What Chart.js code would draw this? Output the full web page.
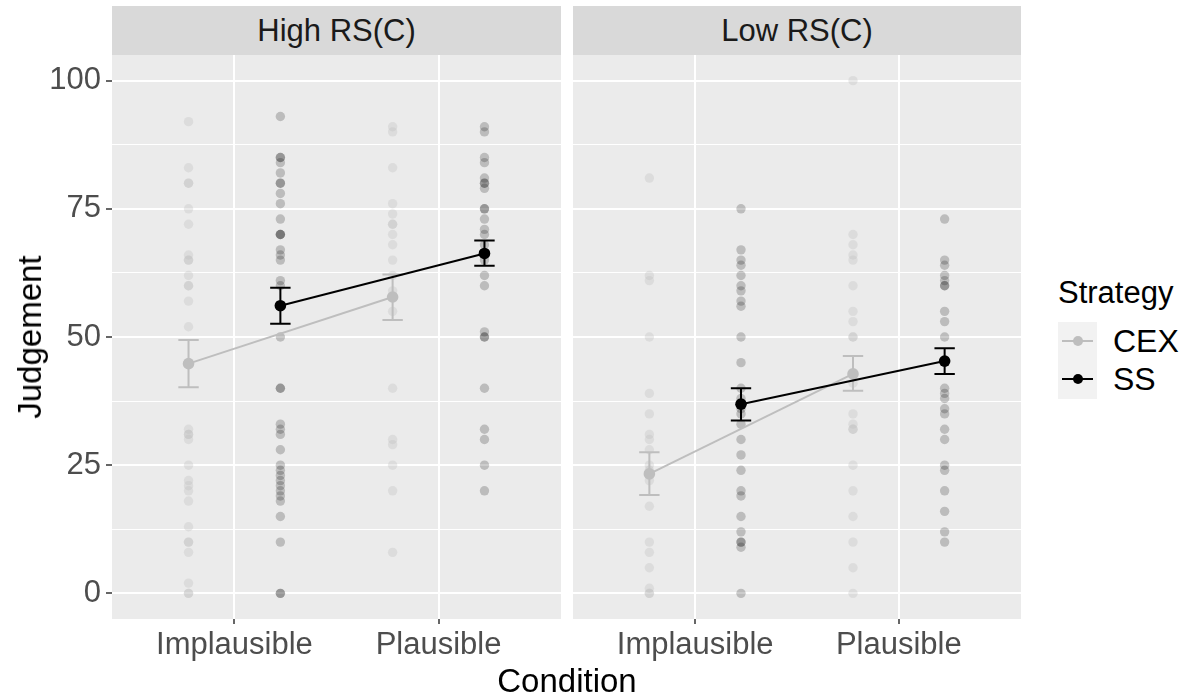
<!DOCTYPE html>
<html><head><meta charset="utf-8">
<script src="https://cdn.jsdelivr.net/npm/chart.js@4.4.0/dist/chart.umd.min.js"></script>
<style>
html,body{margin:0;padding:0;background:#fff;}
body{width:1195px;height:696px;position:relative;overflow:hidden;font-family:"Liberation Sans",Arial,Helvetica,sans-serif;}
canvas{position:absolute;top:0;}
.strip{position:absolute;top:6px;height:49px;background:#D9D9D9;color:#1A1A1A;font-size:31px;display:flex;align-items:center;justify-content:center;}
.title{position:absolute;color:#000;font-size:33px;white-space:nowrap;}
.leg{position:absolute;color:#000;white-space:nowrap;}
</style>
</head><body>
<canvas id="c1" width="570" height="696" style="left:0;width:570px;height:696px"></canvas>
<canvas id="c2" width="470" height="696" style="left:561px;width:470px;height:696px"></canvas>
<div class="strip" id="s1" style="left:112px;width:449px"></div>
<div class="strip" id="s2" style="left:573px;width:448px"></div>
<div class="title" id="xt" style="left:567px;top:662px;transform:translate(-50%,0)"></div>
<div class="title" id="yt" style="left:30px;top:337px;transform:translate(-50%,-50%) rotate(-90deg)"></div>
<div id="legend"></div>
<script>
// ---------- data ----------
const panels = ['High RS(C)', 'Low RS(C)'];
const conditions = ['Implausible', 'Plausible'];
const strategies = ['CEX', 'SS'];
const yTickLabels = [0, 25, 50, 75, 100];
const xTitle = 'Condition';
const yTitle = 'Judgement';
const legendTitle = 'Strategy';

// raw judgements (High RS(C))
const highCEX_Implausible = [92, 83, 80, 80, 75, 72, 66, 65, 65, 62, 60, 60, 57, 52, 32, 31, 31, 30, 25, 22, 21, 20, 18, 13, 10, 10, 8, 2, 0, 0];
const highSS_Implausible  = [93, 85, 85, 84, 82, 80, 80, 78, 76, 73, 70, 70, 70, 67, 66, 65, 61, 60, 50, 40, 40, 33, 32, 31, 28, 25, 24, 23, 22, 21, 20, 19, 18, 15, 10, 0, 0];
const highCEX_Plausible   = [91, 90, 83, 76, 74, 72, 72, 70, 68, 65, 62, 59, 55, 40, 30, 29, 25, 20, 8];
const highSS_Plausible    = [91, 90, 85, 84, 81, 80, 80, 79, 75, 75, 73, 71, 70, 68, 65, 62, 60, 51, 50, 50, 40, 32, 30, 25, 20];
// raw judgements (Low RS(C))
const lowCEX_Implausible  = [81, 62, 61, 50, 39, 35, 31, 30, 28, 25, 24, 22, 17, 10, 8, 5, 1, 0, 0];
const lowSS_Implausible   = [75, 67, 65, 64, 62, 60, 59, 57, 56, 50, 45, 40, 38, 36, 35, 33, 30, 27, 24, 20, 19, 15, 12, 10, 10, 9, 0];
const lowCEX_Plausible    = [100, 70, 68, 66, 65, 60, 55, 53, 50, 50, 41, 35, 33, 32, 32, 25, 20, 15, 10, 5, 0];
const lowSS_Plausible     = [73, 65, 64, 62, 61, 60, 60, 55, 53, 50, 40, 39, 38, 36, 35, 32, 30, 25, 24, 20, 16, 12, 10];

// means and error-bar limits, [Implausible, Plausible]
const highCEX_mean = [44.8, 57.8], highCEX_lo = [40.2, 53.3], highCEX_hi = [49.4, 62.2];
const highSS_mean  = [56.1, 66.3], highSS_lo  = [52.6, 63.9], highSS_hi  = [59.6, 68.8];
const lowCEX_mean  = [23.3, 42.8], lowCEX_lo  = [19.2, 39.5], lowCEX_hi  = [27.5, 46.3];
const lowSS_mean   = [36.9, 45.3], lowSS_lo   = [33.7, 42.8], lowSS_hi   = [40.0, 47.8];

// ---------- styling ----------
const FONT = '"Liberation Sans", Arial, Helvetica, sans-serif';
const DODGE = 0.225, CAP = 0.05;
const COL = { CEX: '#BEBEBE', SS: '#000000' };
const RAW = { CEX: 'rgba(190,190,190,0.32)', SS: 'rgba(0,0,0,0.2)' };
const gridVals = [0, 12.5, 25, 37.5, 50, 62.5, 75, 87.5, 100];

function rawPts(vals, ci, s) {
  const off = s === 'CEX' ? -DODGE : DODGE;
  return vals.map(v => ({ x: ci + 1 + off, y: v }));
}

function panelData(cexI, cexP, ssI, ssP, cM, cL, cH, sM, sL, sH) {
  const off = { CEX: -DODGE, SS: DODGE };
  const sum = (s, m) => m.map((v, i) => ({ x: i + 1 + off[s], y: v }));
  return {
    datasets: [
      { type: 'scatter', data: rawPts(cexI, 0, 'CEX').concat(rawPts(cexP, 1, 'CEX')), backgroundColor: RAW.CEX, borderWidth: 0, pointRadius: 4.7, order: 4 },
      { type: 'scatter', data: rawPts(ssI, 0, 'SS').concat(rawPts(ssP, 1, 'SS')), backgroundColor: RAW.SS, borderWidth: 0, pointRadius: 4.7, order: 3 },
      { type: 'line', data: sum('CEX', cM), errLo: cL, errHi: cH, borderColor: COL.CEX, backgroundColor: COL.CEX, borderWidth: 2, pointRadius: 5.8, pointBorderWidth: 0, order: 2 },
      { type: 'line', data: sum('SS', sM), errLo: sL, errHi: sH, borderColor: COL.SS, backgroundColor: COL.SS, borderWidth: 2, pointRadius: 5.8, pointBorderWidth: 0, order: 1 }
    ]
  };
}

const bgPlugin = {
  id: 'panelBg',
  beforeDraw(chart) {
    const { ctx, chartArea: a } = chart;
    ctx.save(); ctx.fillStyle = '#EBEBEB';
    ctx.fillRect(a.left, a.top, a.right - a.left, a.bottom - a.top);
    ctx.restore();
  }
};
const errPlugin = {
  id: 'errbars',
  beforeDatasetDraw(chart, args) {
    const ds = chart.data.datasets[args.index];
    if (!ds.errLo) return;
    const { ctx } = chart; const x = chart.scales.x, y = chart.scales.y;
    ctx.save(); ctx.strokeStyle = ds.borderColor; ctx.lineWidth = 2;
    ds.data.forEach((p, i) => {
      const px = x.getPixelForValue(p.x), x0 = x.getPixelForValue(p.x - CAP), x1 = x.getPixelForValue(p.x + CAP);
      const yl = y.getPixelForValue(ds.errLo[i]), yh = y.getPixelForValue(ds.errHi[i]);
      ctx.beginPath();
      ctx.moveTo(px, yl); ctx.lineTo(px, yh);
      ctx.moveTo(x0, yl); ctx.lineTo(x1, yl);
      ctx.moveTo(x0, yh); ctx.lineTo(x1, yh);
      ctx.stroke();
    });
    ctx.restore();
  }
};

function makeChart(id, data, showY, padL, padR) {
  return new Chart(document.getElementById(id), {
    data,
    options: {
      responsive: false, animation: false, devicePixelRatio: 1,
      layout: { padding: { top: 55, left: padL, right: padR, bottom: 0 } },
      plugins: { legend: { display: false }, tooltip: { enabled: false } },
      scales: {
        x: {
          type: 'linear', min: 0.4, max: 2.6,
          afterBuildTicks: s => { s.ticks = conditions.map((c, i) => ({ value: i + 1 })); },
          afterFit: s => { s.height = 77; },
          ticks: { callback: v => conditions[Math.round(v) - 1] || '', color: '#4D4D4D', font: { family: FONT, size: 31 }, padding: 3, maxRotation: 0, autoSkip: false },
          grid: { color: '#FFFFFF', lineWidth: 2, tickLength: 5, tickColor: '#333333', tickWidth: 1.5 },
          border: { display: false }
        },
        y: {
          type: 'linear', min: -5, max: 105,
          afterBuildTicks: s => { s.ticks = gridVals.map(v => ({ value: v })); },
          afterFit: s => { s.width = showY ? 112 : 0; },
          ticks: { display: showY, callback: v => yTickLabels.includes(v) ? String(v) : '', color: '#4D4D4D', font: { family: FONT, size: 31 }, padding: 5 },
          grid: {
            color: '#FFFFFF',
            lineWidth: c => (c.tick && c.tick.value % 25 === 0) ? 2 : 1,
            drawTicks: showY, tickLength: 6, tickWidth: 1.5,
            tickColor: c => (c.tick && c.tick.value % 25 === 0) ? '#333333' : 'rgba(0,0,0,0)'
          },
          border: { display: false }
        }
      }
    },
    plugins: [bgPlugin, errPlugin]
  });
}

makeChart('c1', panelData(highCEX_Implausible, highCEX_Plausible, highSS_Implausible, highSS_Plausible,
  highCEX_mean, highCEX_lo, highCEX_hi, highSS_mean, highSS_lo, highSS_hi), true, 0, 9);
makeChart('c2', panelData(lowCEX_Implausible, lowCEX_Plausible, lowSS_Implausible, lowSS_Plausible,
  lowCEX_mean, lowCEX_lo, lowCEX_hi, lowSS_mean, lowSS_lo, lowSS_hi), false, 12, 10);

document.getElementById('s1').textContent = panels[0];
document.getElementById('s2').textContent = panels[1];
document.getElementById('xt').textContent = xTitle;
document.getElementById('yt').textContent = yTitle;

// legend
const leg = document.getElementById('legend');
let html = `<div class="leg" style="left:1058px;top:275px;font-size:31px;">${legendTitle}</div>`;
html += `<div style="position:absolute;left:1058px;top:322px;width:39px;height:77px;background:#F2F2F2;"></div>`;
strategies.forEach((s, i) => {
  const cy = 341 + i * 38;
  html += `<div style="position:absolute;left:1062px;top:${cy - 1}px;width:31px;height:2px;background:${COL[s]};"></div>`;
  html += `<div style="position:absolute;left:${1077.5 - 5}px;top:${cy - 5}px;width:10px;height:10px;border-radius:50%;background:${COL[s]};"></div>`;
  html += `<div class="leg" style="left:1113px;top:${cy - 19}px;font-size:32px;line-height:38px;">${s}</div>`;
});
leg.innerHTML = html;
</script>
</body></html>
